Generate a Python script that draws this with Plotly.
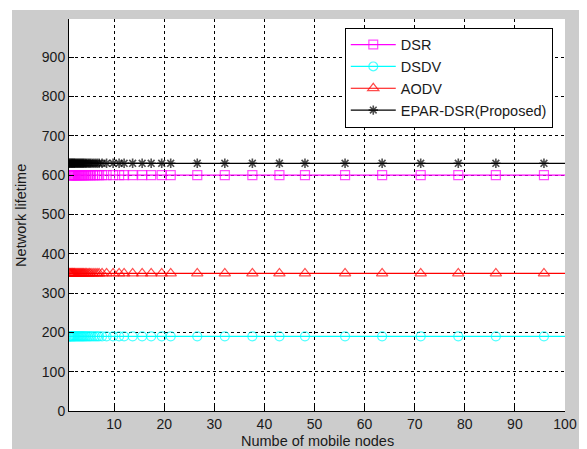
import plotly.graph_objects as go

nodes = [1.0, 1.15, 1.3, 1.45, 1.6, 1.75, 1.9, 2.05, 2.2, 2.4,
         2.6, 2.8, 3.0, 3.2, 3.4, 3.6, 3.8, 4.0, 4.25, 4.5,
         4.8, 5.1, 5.4, 5.8, 6.2, 6.6, 7.0, 7.6, 8.5, 9.8,
         11.0, 12.0, 13.7, 15.6, 17.4, 19.5, 21.3, 26.6, 32.1, 37.6,
         43.0, 48.1, 56.1, 63.5, 71.2, 78.7, 86.2, 95.8, 100]

dsr = [600, 600, 600, 600, 600, 600, 600, 600, 600, 600,
       600, 600, 600, 600, 600, 600, 600, 600, 600, 600,
       600, 600, 600, 600, 600, 600, 600, 600, 600, 600,
       600, 600, 600, 600, 600, 600, 600, 600, 600, 600,
       600, 600, 600, 600, 600, 600, 600, 600, 600]
dsdv = [190, 190, 190, 190, 190, 190, 190, 190, 190, 190,
        190, 190, 190, 190, 190, 190, 190, 190, 190, 190,
        190, 190, 190, 190, 190, 190, 190, 190, 190, 190,
        190, 190, 190, 190, 190, 190, 190, 190, 190, 190,
        190, 190, 190, 190, 190, 190, 190, 190, 190]
aodv = [350, 350, 350, 350, 350, 350, 350, 350, 350, 350,
        350, 350, 350, 350, 350, 350, 350, 350, 350, 350,
        350, 350, 350, 350, 350, 350, 350, 350, 350, 350,
        350, 350, 350, 350, 350, 350, 350, 350, 350, 350,
        350, 350, 350, 350, 350, 350, 350, 350, 350]
epar = [630, 630, 630, 630, 630, 630, 630, 630, 630, 630,
        630, 630, 630, 630, 630, 630, 630, 630, 630, 630,
        630, 630, 630, 630, 630, 630, 630, 630, 630, 630,
        630, 630, 630, 630, 630, 630, 630, 630, 630, 630,
        630, 630, 630, 630, 630, 630, 630, 630, 630]

series_names = ["DSR", "DSDV", "AODV", "EPAR-DSR(Proposed)"]
x_ticks = [10, 20, 30, 40, 50, 60, 70, 80, 90, 100]
y_ticks = [0, 100, 200, 300, 400, 500, 600, 700, 800, 900]

FONT = "Liberation Sans, Arial, sans-serif"
TXT = "#1a1a1a"

def sizes(n, s):
    # last point (x=100) carries the line to the axis end only, no visible marker
    return [s] * (n - 1) + [0]

styles = [
    (dsr, "#ff00ff", "square-open", 9, 1.2),
    (dsdv, "#00ffff", "circle-open", 9, 1.2),
    (aodv, "#ff0000", "triangle-up-open", 10, 1.2),
    (epar, "#000000", "asterisk-open", 8, 1.6),
]

fig = go.Figure()
for name, (vals, col, sym, sz, mw) in zip(series_names, styles):
    n = min(len(nodes), len(vals))
    fig.add_trace(go.Scatter(
        x=nodes[:n], y=vals[:n], name=name, mode="lines+markers",
        line=dict(color=col, width=1.2),
        marker=dict(symbol=sym, size=sizes(n, sz), color=col,
                    line=dict(color=col, width=mw)),
        cliponaxis=True,
    ))

fig.update_layout(
    width=579, height=441,
    margin=dict(l=61, r=22, t=11, b=38),
    paper_bgcolor="#cccccc",
    plot_bgcolor="#ffffff",
    font=dict(family=FONT, size=14, color=TXT),
    showlegend=True,
    legend=dict(
        x=0.556, y=0.978, xanchor="left", yanchor="top",
        bgcolor="#ffffff", bordercolor="#000000", borderwidth=1,
        font=dict(family=FONT, size=14.5, color=TXT),
        itemwidth=45, tracegroupgap=0,
    ),
    xaxis=dict(
        range=[1, 100], tickvals=x_ticks, ticktext=[str(v) for v in x_ticks],
        ticks="inside", ticklen=5, tickcolor="#000000",
        showline=True, linecolor="#000000", linewidth=1,
        showgrid=True, gridcolor="#000000", gridwidth=1, griddash="3px,3px",
        zeroline=False, tickfont=dict(family=FONT, size=14, color=TXT),
    ),
    yaxis=dict(
        range=[0, 997], tickvals=y_ticks, ticktext=[str(v) for v in y_ticks],
        ticks="inside", ticklen=5, tickcolor="#000000",
        showline=True, linecolor="#000000", linewidth=1,
        showgrid=True, gridcolor="#000000", gridwidth=1, griddash="3px,3px",
        zeroline=False, tickfont=dict(family=FONT, size=14, color=TXT),
    ),
    shapes=[
        dict(type="rect", xref="paper", yref="paper", x0=-0.123, x1=-0.1149,
             y0=-0.097, y1=1.028, fillcolor="#ffffff", line=dict(width=0), layer="below"),
        dict(type="rect", xref="paper", yref="paper", x0=-0.123, x1=1.05,
             y0=1.023, y1=1.028, fillcolor="#ffffff", line=dict(width=0), layer="below"),
    ],
    annotations=[
        dict(text="Numbe of mobile nodes", xref="paper", yref="paper",
             x=0.5, y=-0.0765, xanchor="center", yanchor="middle",
             showarrow=False, font=dict(family=FONT, size=14.5, color=TXT)),
        dict(text="Network lifetime", xref="paper", yref="paper",
             x=-0.097, y=0.5, xanchor="center", yanchor="middle", textangle=-90,
             showarrow=False, font=dict(family=FONT, size=14.5, color=TXT)),
    ],
)

fig.write_html("out.html")
